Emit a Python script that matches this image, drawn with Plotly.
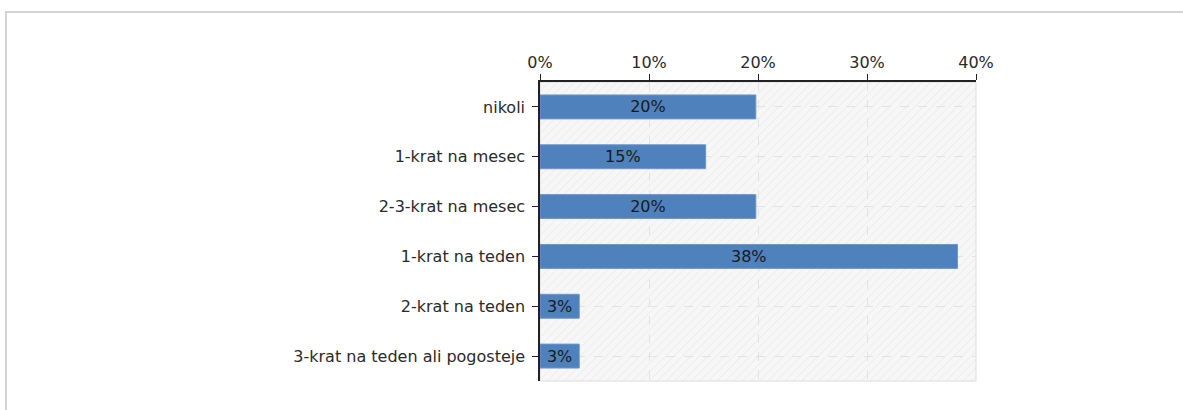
from __future__ import annotations

import base64

import plotly.graph_objects as go

CATEGORIES = [
    "nikoli",
    "1-krat na mesec",
    "2-3-krat na mesec",
    "1-krat na teden",
    "2-krat na teden",
    "3-krat na teden ali pogosteje",
]
SHARES = [19.8, 15.2, 19.8, 38.3, 3.6, 3.6]
SHARE_LABELS = ["20%", "15%", "20%", "38%", "3%", "3%"]
X_TICKS = [0, 10, 20, 30, 40]
X_TICK_TEXT = ["0%", "10%", "20%", "30%", "40%"]

W, H = 1183, 410
L, R, T, B = 540, 207, 82, 29
PW, PH = W - L - R, H - T - B

FONT = "DejaVu Sans, Verdana, sans-serif"
BAR_COLOR = "#4f81bd"

# hatched plot background as an inline svg
hatch_svg = f"""<svg xmlns="http://www.w3.org/2000/svg" width="{PW}" height="{PH}">
<defs><pattern id="h" width="6" height="6" patternUnits="userSpaceOnUse" patternTransform="rotate(45)">
<rect width="6" height="6" fill="#f7f7f7"/><line x1="0" y1="0" x2="0" y2="6" stroke="#eaeaea" stroke-width="1.5"/>
</pattern></defs><rect width="{PW}" height="{PH}" fill="url(#h)"/></svg>"""
hatch_uri = "data:image/svg+xml;base64," + base64.b64encode(hatch_svg.encode()).decode()

fig = go.Figure(go.Bar(
    x=SHARES, y=CATEGORIES, orientation="h",
    marker=dict(color=BAR_COLOR, line=dict(color="#6d97cc", width=1)),
    width=0.48,
    text=SHARE_LABELS, textposition="inside", insidetextanchor="middle",
    textfont=dict(family=FONT, size=16, color="#1a1a1a"),
    constraintext="none",
    hoverinfo="skip",
))

fig.update_layout(
    width=W, height=H,
    margin=dict(l=L, r=R, t=T, b=B, pad=0),
    paper_bgcolor="white", plot_bgcolor="rgba(0,0,0,0)",
    font=dict(family=FONT, size=16, color="#2a2a2a"),
    showlegend=False,
    images=[dict(source=hatch_uri, xref="paper", yref="paper", x=0, y=1,
                 sizex=1, sizey=1, sizing="stretch", layer="below")],
    shapes=[
        # outer frame
        dict(type="rect", xref="paper", yref="paper",
             x0=(6 - L) / PW, x1=(W + 20 - L) / PW,
             y0=-(B + 20) / PH, y1=1 + (T - 12) / PH,
             line=dict(color="#d4d4d4", width=2), layer="below"),
        # plot border
        dict(type="rect", xref="paper", yref="paper", x0=0, x1=1, y0=0, y1=1,
             line=dict(color="#dcdcdc", width=1), layer="below"),
    ],
)

fig.update_xaxes(
    side="top", range=[0, 40], tickvals=X_TICKS, ticktext=X_TICK_TEXT,
    showline=True, linecolor="#222", linewidth=1.5,
    ticks="outside", ticklen=6, tickcolor="#222",
    showgrid=True, gridcolor="#e2e2e2", griddash="dash", gridwidth=1,
    zeroline=False, fixedrange=True,
)
fig.update_yaxes(
    categoryorder="array", categoryarray=CATEGORIES[::-1],
    showline=True, linecolor="#222", linewidth=1.5,
    ticks="outside", ticklen=6, tickcolor="#222",
    showgrid=True, gridcolor="#e2e2e2", griddash="dash", gridwidth=1,
    ticklabelstandoff=4, fixedrange=True,
)

fig.write_html("out.html", config={"displayModeBar": False},
               post_script="document.body.style.margin='0';")
